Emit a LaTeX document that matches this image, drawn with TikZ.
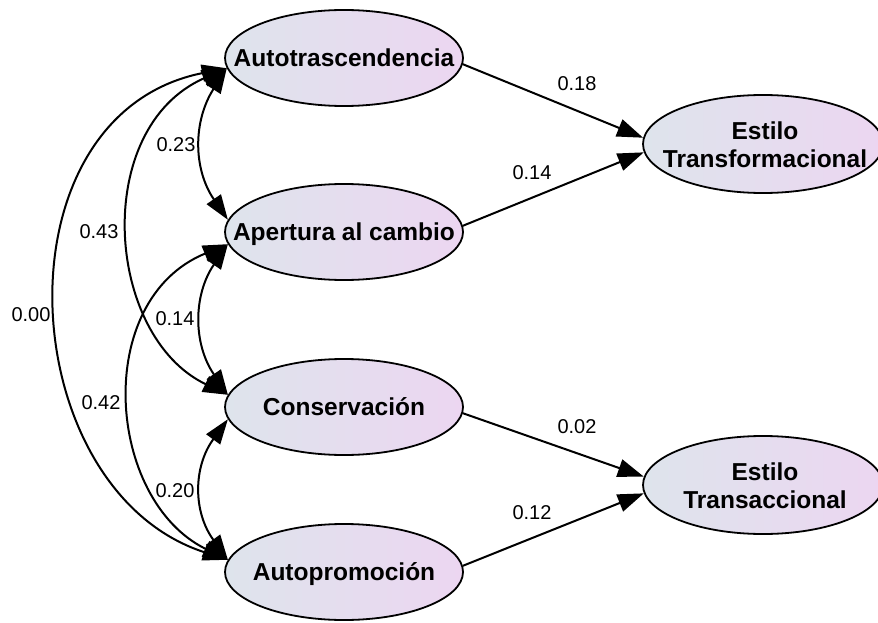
\documentclass[tikz,border=0pt]{standalone}
\usepackage{fontspec}
\setmainfont{Liberation Sans}
\usetikzlibrary{shapes.geometric,arrows.meta}
\definecolor{fillL}{RGB}{222,228,236}
\definecolor{fillR}{RGB}{236,214,241}
\begin{document}
\begin{tikzpicture}[x=1pt,y=-1pt,
  lat/.style={ellipse, draw, line width=1.8pt, minimum width=238pt, minimum height=96pt, inner sep=0pt, left color=fillL, right color=fillR},
  ltxt/.style={font=\fontsize{24.5}{28}\selectfont\bfseries, inner sep=0pt, align=center},
  coef/.style={font=\fontsize{20}{24}\selectfont, inner sep=0pt},
  reg/.style={draw, line width=2pt, -{Triangle[length=26pt,width=18pt]}},
  cov/.style={draw, line width=2pt, {Triangle[length=25pt,width=17pt]}-{Triangle[length=25pt,width=17pt]}}
]
\useasboundingbox (0,0) rectangle (878,623);
% latent ellipses
\node[lat] (a1) at (344,58) {};
\node[lat] (a2) at (344,232) {};
\node[lat] (a3) at (344,407) {};
\node[lat] (a4) at (344,572) {};
\node[lat, minimum width=240pt, minimum height=98pt] (tf) at (763,144) {};
\node[lat, minimum width=240pt, minimum height=98pt] (ta) at (763,485) {};
% texts
\node[ltxt, anchor=base] (a1t) at (344,66.5) {Autotrascendencia};
\node[ltxt, anchor=base] (a2t) at (344,240.5) {Apertura al cambio};
\node[ltxt, anchor=base] (a3t) at (344,415.5) {Conservación};
\node[ltxt, anchor=base] (a4t) at (344,580.5) {Autopromoción};
\node[ltxt] (tft) at (765,145) {Estilo\\Transformacional};
\node[ltxt] (tat) at (765,486) {Estilo\\Transaccional};
% regressions
\draw[reg] (a1.-3) -- (tf.177);
\draw[reg] (a2.3) -- (tf.184);
\draw[reg] (a3.-3) -- (ta.176);
\draw[reg] (a4.3) -- (ta.184);
% covariances
\draw[cov] (a1.185) .. controls (193,121) and (193,169) .. (a2.174);
\draw[cov] (a2.186) .. controls (193,295) and (193,344) .. (a3.174);
\draw[cov] (a3.186) .. controls (193,467) and (193,512) .. (a4.174);
\draw[cov] (a1.185) .. controls (91,128) and (105,336) .. (a3.174);
\draw[cov] (a2.186) .. controls (92,300) and (106,500) .. (a4.174);
\draw[cov] (a1.185) .. controls (-8,115) and (12,490) .. (a4.174);
% coefficients
\node[coef] (c1) at (577,84) {0.18};
\node[coef] (c2) at (532,173) {0.14};
\node[coef] (c3) at (577,427) {0.02};
\node[coef] (c4) at (532,513) {0.12};
\node[coef] (c5) at (176,145) {0.23};
\node[coef] (c6) at (99,232) {0.43};
\node[coef] (c7) at (31,315) {0.00};
\node[coef] (c8) at (175,319) {0.14};
\node[coef] (c9) at (101,403) {0.42};
\node[coef] (c10) at (175,491) {0.20};
\end{tikzpicture}
\end{document}
